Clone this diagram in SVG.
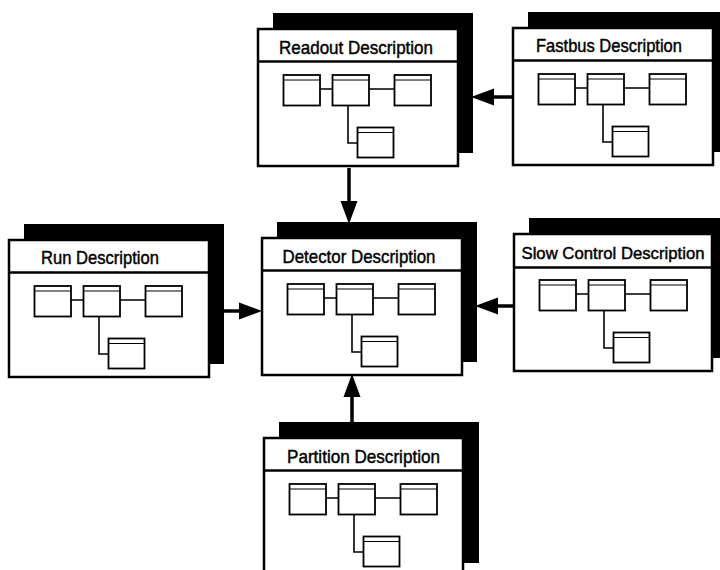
<svg xmlns="http://www.w3.org/2000/svg" xmlns:xlink="http://www.w3.org/1999/xlink" width="720" height="570" viewBox="0 0 720 570">
<style>
.shadow{fill:#000;stroke:none}
.front{fill:#fff;stroke:#000;stroke-width:2.5}
.hdr{stroke:#000;stroke-width:2.5}
.title{font-family:"Liberation Sans",Arial,sans-serif;font-size:19px;fill:#000;stroke:#000;stroke-width:0.45}
.mb{fill:#fff;stroke:#000;stroke-width:1.8}
.ms{stroke:#000;stroke-width:1}
.ml{fill:none;stroke:#000;stroke-width:1.6}
.conn{stroke:#000;stroke-width:3.5;fill:none}
</style>
<defs>
<marker id="ah" markerUnits="userSpaceOnUse" markerWidth="24" markerHeight="18" refX="0" refY="8.5" orient="auto" viewBox="0 0 24 17">
<path d="M0,0 L23,8.5 L0,17 Z" fill="#000"/>
</marker>
<g id="mini">
<path class="ml" d="M62,60 H74.5 M111,60 H136.5 M90,76.5 V114 H99.5"/>
<rect class="mb" x="25.5" y="46" width="36.5" height="30.5"/>
<line class="ms" x1="25.5" y1="51" x2="62" y2="51"/>
<rect class="mb" x="74.5" y="46" width="36.5" height="30.5"/>
<line class="ms" x1="74.5" y1="51" x2="111" y2="51"/>
<rect class="mb" x="136.5" y="46" width="36.5" height="30.5"/>
<line class="ms" x1="136.5" y1="51" x2="173" y2="51"/>
<rect class="mb" x="99.5" y="98.5" width="36" height="30"/>
<line class="ms" x1="99.5" y1="103.5" x2="135.5" y2="103.5"/>
</g>
</defs>
<g id="connectors">
<line class="conn" x1="512" y1="97" x2="494" y2="97" marker-end="url(#ah)"/>
<line class="conn" x1="349" y1="168" x2="349" y2="201" marker-end="url(#ah)"/>
<line class="conn" x1="222" y1="311" x2="239" y2="311" marker-end="url(#ah)"/>
<line class="conn" x1="514" y1="306" x2="498" y2="306" marker-end="url(#ah)"/>
<line class="conn" x1="352" y1="423" x2="352" y2="397" marker-end="url(#ah)"/>
</g>
<g id="readout" transform="translate(258,29)">
<rect class="shadow" x="15" y="-16" width="200" height="140"/>
<rect class="front" x="0" y="0" width="200" height="137"/>
<line class="hdr" x1="0" y1="32.5" x2="200" y2="32.5"/>
<text class="title" x="21" y="24.5" textLength="154" lengthAdjust="spacingAndGlyphs">Readout  Description</text>
<use xlink:href="#mini"/>
</g>
<g id="fastbus" transform="translate(513,28)">
<rect class="shadow" x="15" y="-16" width="200" height="140"/>
<rect class="front" x="0" y="0" width="200" height="137"/>
<line class="hdr" x1="0" y1="32.5" x2="200" y2="32.5"/>
<text class="title" x="23" y="24" textLength="146" lengthAdjust="spacingAndGlyphs">Fastbus  Description</text>
<use xlink:href="#mini"/>
</g>
<g id="run" transform="translate(9,240)">
<rect class="shadow" x="15" y="-16" width="200" height="140"/>
<rect class="front" x="0" y="0" width="200" height="137"/>
<line class="hdr" x1="0" y1="32.5" x2="200" y2="32.5"/>
<text class="title" x="32" y="24" textLength="118" lengthAdjust="spacingAndGlyphs">Run  Description</text>
<use xlink:href="#mini"/>
</g>
<g id="detector" transform="translate(262,238)">
<rect class="shadow" x="15" y="-16" width="200" height="140"/>
<rect class="front" x="0" y="0" width="200" height="137"/>
<line class="hdr" x1="0" y1="32.5" x2="200" y2="32.5"/>
<text class="title" x="20.5" y="24.5" textLength="153" lengthAdjust="spacingAndGlyphs">Detector  Description</text>
<use xlink:href="#mini"/>
</g>
<g id="slowcontrol" transform="translate(514,234)">
<rect class="shadow" x="15" y="-16" width="200" height="140"/>
<rect class="front" x="0" y="0" width="198" height="137"/>
<line class="hdr" x1="0" y1="33.5" x2="198" y2="33.5"/>
<text class="title" x="7.5" y="24.5" style="font-size:17px" textLength="183" lengthAdjust="spacingAndGlyphs">Slow Control Description</text>
<use xlink:href="#mini"/>
</g>
<g id="partition" transform="translate(264,438)">
<rect class="shadow" x="15" y="-16" width="200" height="141"/>
<rect class="front" x="0" y="0" width="199" height="138"/>
<line class="hdr" x1="0" y1="32.5" x2="199" y2="32.5"/>
<text class="title" x="23" y="25" textLength="153" lengthAdjust="spacingAndGlyphs">Partition  Description</text>
<use xlink:href="#mini"/>
</g>
</svg>
